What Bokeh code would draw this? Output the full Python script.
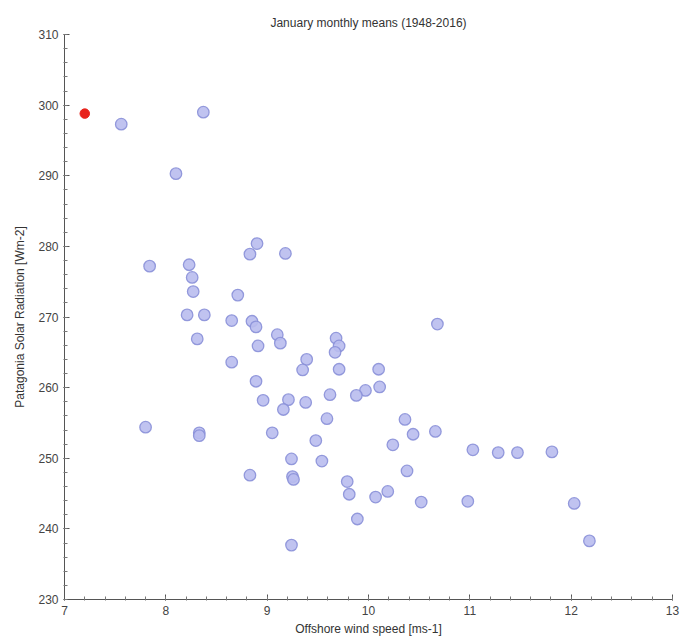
from bokeh.plotting import figure
from bokeh.models import Range1d
from bokeh.embed import file_html
from bokeh.resources import INLINE

# Offshore wind speed [ms-1] and Patagonia solar radiation [Wm-2], January means
wind = [7.56, 8.37, 8.10, 7.84, 8.90, 8.83, 9.18, 8.23, 8.26, 8.27,
        8.71, 8.21, 8.38, 8.65, 8.85, 8.89, 8.31, 9.10, 9.13, 8.91,
        8.65, 9.39, 9.35, 8.89, 7.80, 8.33, 8.33, 10.68, 9.68, 9.71,
        9.67, 9.71, 10.10, 10.11, 9.97, 9.88, 9.62, 9.38, 9.59, 10.36,
        10.44, 10.66, 9.48, 8.96, 9.21, 9.16, 9.05, 9.24, 9.54, 8.83,
        9.25, 9.26, 9.24, 10.24, 10.38, 9.79, 9.81, 10.19, 10.07, 10.52,
        9.89, 11.03, 11.28, 11.47, 11.81, 10.98, 12.03, 12.18]
radiation = [297.3, 299.0, 290.3, 277.2, 280.4, 278.9, 279.0, 277.4, 275.6, 273.6,
             273.1, 270.3, 270.3, 269.5, 269.4, 268.6, 266.9, 267.5, 266.3, 265.9,
             263.6, 264.0, 262.5, 260.9, 254.4, 253.6, 253.2, 269.0, 267.0, 265.9,
             265.0, 262.6, 262.6, 260.1, 259.6, 258.9, 259.0, 257.9, 255.6, 255.5,
             253.4, 253.8, 252.5, 258.2, 258.3, 256.9, 253.6, 249.9, 249.6, 247.6,
             247.4, 247.0, 237.7, 251.9, 248.2, 246.7, 244.9, 245.3, 244.5, 243.8,
             241.4, 251.2, 250.8, 250.8, 250.9, 243.9, 243.6, 238.3]
highlight_wind = [7.20]
highlight_radiation = [298.8]

p = figure(width=680, height=640, output_backend="svg", toolbar_location=None,
           title="January monthly means (1948-2016)",
           x_range=Range1d(7, 13), y_range=Range1d(230, 310),
           min_border_left=64, min_border_right=8, min_border_top=34,
           min_border_bottom=41)

p.scatter(wind, radiation, size=11.5, fill_color="#b9bdee", fill_alpha=0.9,
          line_color="#8a90d8", line_width=1.3, line_alpha=0.9)
p.scatter(highlight_wind, highlight_radiation, size=9.5, fill_color="#e8231c",
          line_color="#e8231c")

p.title.align = "center"
p.title.text_font = "Liberation Sans"
p.title.text_font_size = "12px"
p.title.text_font_style = "normal"
p.title.text_color = "#333333"

p.xgrid.visible = False
p.ygrid.visible = False
p.outline_line_color = None

p.xaxis.axis_label = "Offshore wind speed [ms-1]"
p.yaxis.axis_label = "Patagonia Solar Radiation [Wm-2]"
p.xaxis.ticker.desired_num_ticks = 6
p.xaxis.ticker.num_minor_ticks = 5
p.yaxis.ticker.desired_num_ticks = 8
p.yaxis.ticker.num_minor_ticks = 5

for ax in (p.xaxis, p.yaxis):
    ax.axis_line_color = "#555555"
    ax.major_tick_line_color = "#555555"
    ax.minor_tick_line_color = "#777777"
    ax.major_tick_in = 5
    ax.major_tick_out = 1
    ax.minor_tick_in = 3
    ax.minor_tick_out = 1
    ax.major_label_text_font = "Liberation Sans"
    ax.major_label_text_font_size = "12px"
    ax.major_label_text_color = "#444444"
    ax.axis_label_text_font = "Liberation Sans"
    ax.axis_label_text_font_size = "12px"
    ax.axis_label_text_font_style = "normal"
    ax.axis_label_text_color = "#333333"
    ax.major_label_standoff = 5
    ax.axis_label_standoff = 4

p.yaxis.axis_label_standoff = 8

open("out.html", "w").write(file_html(p, INLINE))
